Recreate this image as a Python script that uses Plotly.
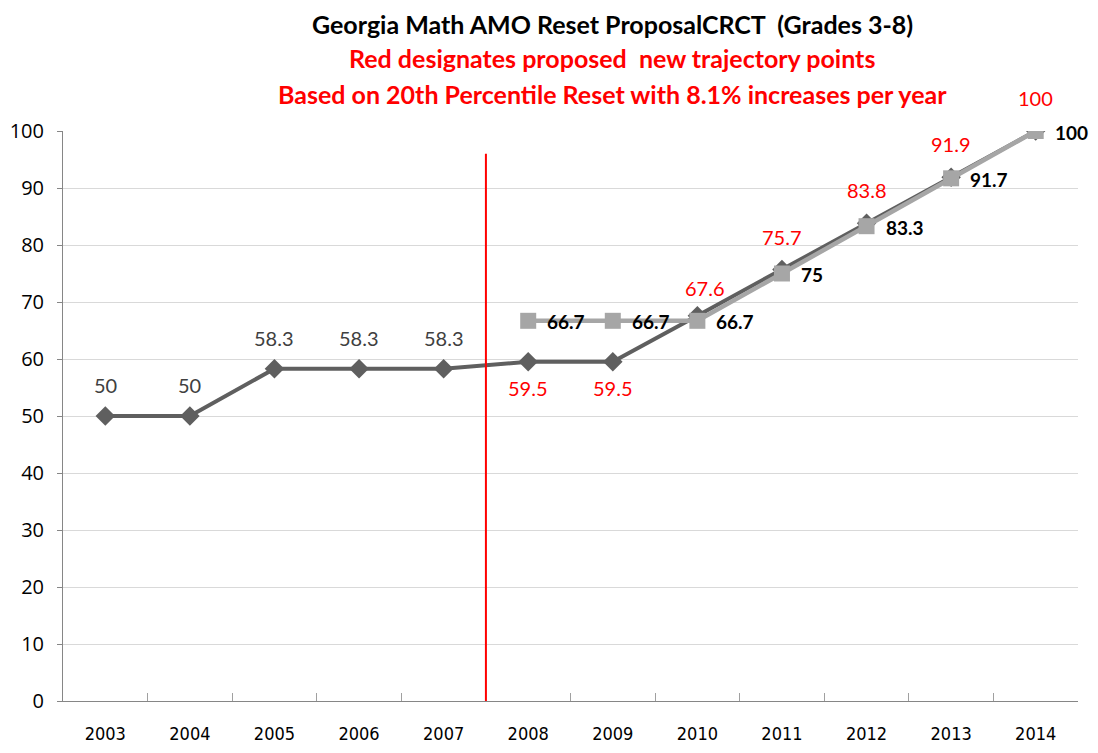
import plotly.graph_objects as go

years = ["2003", "2004", "2005", "2006", "2007", "2008", "2009",
         "2010", "2011", "2012", "2013", "2014"]
proposed = [50, 50, 58.3, 58.3, 58.3, 59.5, 59.5, 67.6, 75.7, 83.8, 91.9, 100]
current_years = ["2008", "2009", "2010", "2011", "2012", "2013", "2014"]
current = [66.7, 66.7, 66.7, 75, 83.3, 91.7, 100]
y_ticks = [0, 10, 20, 30, 40, 50, 60, 70, 80, 90, 100]
title_lines = [
    "Georgia Math AMO Reset ProposalCRCT  (Grades 3-8)",
    "Red designates proposed  new trajectory points",
    "Based on 20th Percentile Reset with 8.1% increases per year",
]

FONT = "Lato, 'Open Sans', sans-serif"
DARK = "#5f5f5f"
LIGHT = "#a6a6a6"
RED = "#ff0000"

# the page shows the figure inside an 8px body margin; size it so the page
# does not overflow the window
W, H = 1082, 737
L, R, T, B = 55, 12, 123, 44
pw, ph = W - L - R, H - T - B

fig = go.Figure()
fig.add_trace(go.Scatter(
    x=years, y=proposed, mode="lines+markers",
    line=dict(color=DARK, width=4),
    marker=dict(symbol="diamond", size=15, color=DARK),
    showlegend=False, hoverinfo="x+y",
))
fig.add_trace(go.Scatter(
    x=current_years, y=current, mode="lines+markers",
    line=dict(color=LIGHT, width=4.5),
    marker=dict(symbol="square", size=16, color=LIGHT),
    showlegend=False, hoverinfo="x+y",
))

annotations = []
# labels for the dark (proposed) series
for i, (yr, v) in enumerate(zip(years, proposed)):
    if i < 5:
        color, ys, xs = "#404040", 31, 0
    elif i < 7:
        color, ys, xs = RED, -26, 0
    elif i == 7:
        color, ys, xs = RED, 28, 8
    else:
        color, ys, xs = RED, 33, 0
    annotations.append(dict(
        x=years.index(yr), y=v, xref="x", yref="y", text=f"{v:g}", showarrow=False,
        xshift=xs, yshift=ys, font=dict(family=FONT, size=20, color=color),
    ))
# labels for the light (current) series
for yr, v in zip(current_years, current):
    annotations.append(dict(
        x=years.index(yr), y=v, xref="x", yref="y", text=f"<b>{v:g}</b>",
        showarrow=False, xanchor="left", xshift=17, yshift=-1,
        font=dict(family=FONT, size=19, color="#000000"),
    ))

# title lines (pixel positions converted to paper coordinates)
title_y = [16, 50, 86]
for k, (txt, ty) in enumerate(zip(title_lines, title_y)):
    annotations.append(dict(
        x=(604 - L) / pw, y=(H - ty - B) / ph, xref="paper", yref="paper",
        text=f"<b>{txt}</b>", showarrow=False, xanchor="center", yanchor="middle",
        font=dict(family=FONT, size=25, color="#000000" if k == 0 else RED),
    ))

fig.update_layout(
    width=W, height=H,
    margin=dict(l=L, r=R, t=T, b=B),
    paper_bgcolor="white", plot_bgcolor="white",
    annotations=annotations,
    shapes=[dict(type="line", xref="x", yref="y", x0=4.5, x1=4.5, y0=0, y1=96,
                 line=dict(color=RED, width=2))],
    xaxis=dict(
        type="category", categoryorder="array", categoryarray=years,
        range=[-0.5, 11.5], showgrid=False, showline=True, linecolor="#868686",
        linewidth=1, ticks="inside", tickson="boundaries", ticklen=8,
        tickcolor="#a0a0a0", ticklabelstandoff=16, automargin=False,
        tickfont=dict(family="'DejaVu Sans Condensed', 'Liberation Sans Narrow', sans-serif",
                      size=18, color="#000000"),
    ),
    yaxis=dict(
        range=[0, 100], tickvals=y_ticks, showgrid=True, gridcolor="#d9d9d9",
        gridwidth=1, showline=True, linecolor="#868686", linewidth=1,
        ticks="outside", ticklen=5, tickcolor="#868686", zeroline=False,
        ticklabelstandoff=9, automargin=False,
        tickfont=dict(family="'Open Sans', sans-serif", size=20, color="#000000"),
    ),
)

fig.write_html("out.html")
